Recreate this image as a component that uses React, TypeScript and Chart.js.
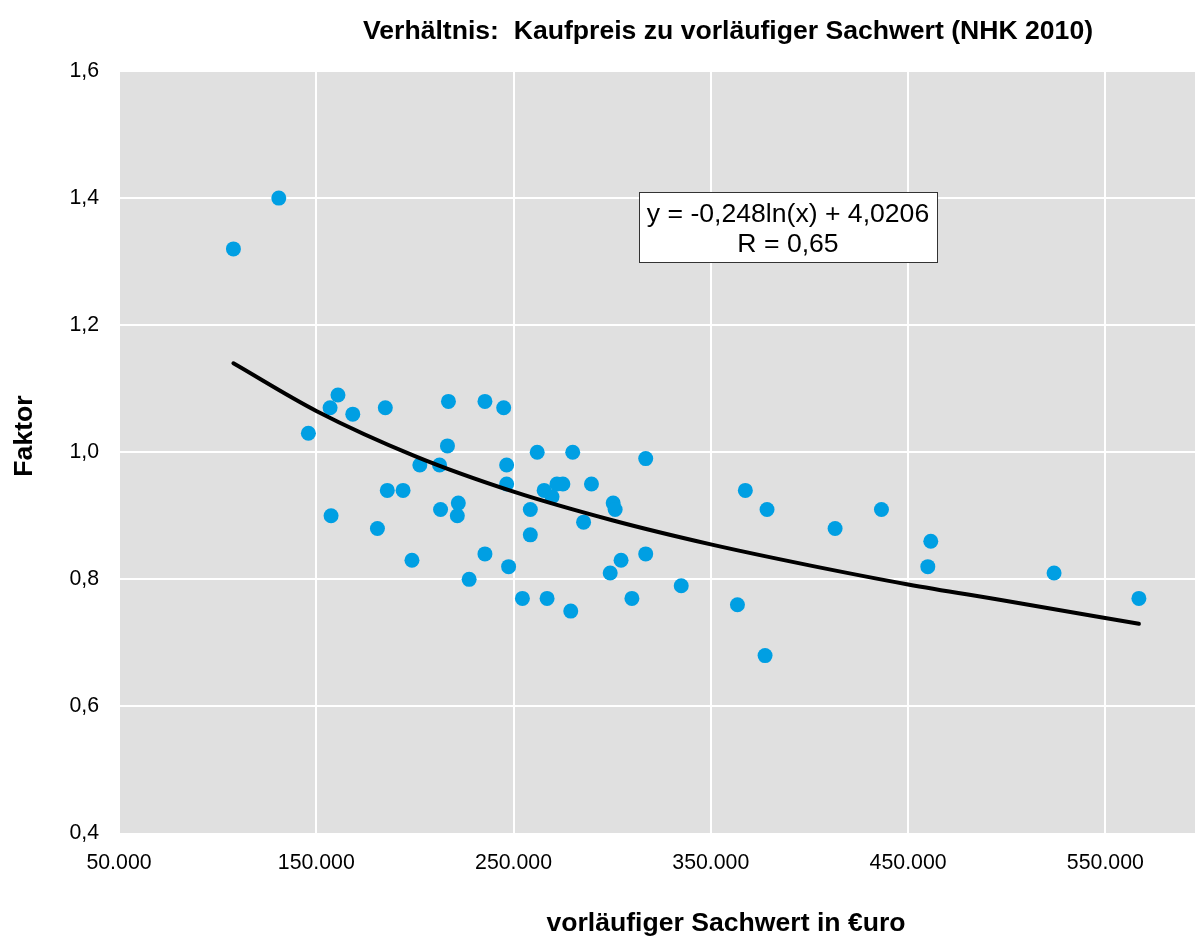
import React, { useEffect, useRef } from "react";
import { Chart, registerables } from "chart.js";

Chart.register(...registerables);

// ---- data ----
const sachwert: number[] = [
  108000, 131000, 146000, 157000, 161000, 168500, 185000, 217000, 235500, 245000,
  216500, 202500, 212500, 246500, 246500, 186000, 194000, 222000, 221500, 213000,
  157500, 181000, 198500, 235500, 247500, 227500, 254500, 262000, 280000, 317000,
  265500, 272000, 275000, 269500, 289500, 258500, 285500, 300500, 301500, 258500,
  304500, 299000, 317000, 267000, 279000, 310000, 367500, 378500, 413000, 436500,
  461500, 460000, 335000, 363500, 377500, 524000, 567000,
];
const faktor: number[] = [
  1.32, 1.40, 1.03, 1.07, 1.09, 1.06, 1.07, 1.08, 1.08, 1.07,
  1.01, 0.98, 0.98, 0.98, 0.95, 0.94, 0.94, 0.92, 0.90, 0.91,
  0.90, 0.88, 0.83, 0.84, 0.82, 0.80, 0.77, 1.00, 1.00, 0.99,
  0.94, 0.95, 0.95, 0.93, 0.95, 0.91, 0.89, 0.92, 0.91, 0.87,
  0.83, 0.81, 0.84, 0.77, 0.75, 0.77, 0.94, 0.91, 0.88, 0.91,
  0.86, 0.82, 0.79, 0.76, 0.68, 0.81, 0.77,
];

// trend line (log fit)
const trendX: number[] = [108000, 150000, 200000, 250000, 300000, 350000, 400000, 450000, 500000, 567000];
const trendY: number[] = [1.14, 1.065, 0.994, 0.938, 0.893, 0.855, 0.822, 0.792, 0.766, 0.73];

// axis ticks
const xLabelValues: number[] = [50000, 150000, 250000, 350000, 450000, 550000];
const yLabelValues: number[] = [0.4, 0.6, 0.8, 1.0, 1.2, 1.4, 1.6];

const titleText = "Verhältnis:  Kaufpreis zu vorläufiger Sachwert (NHK 2010)";
const xTitleText = "vorläufiger Sachwert in €uro";
const yTitleText = "Faktor";
const equationLines = ["y = -0,248ln(x) + 4,0206", "R = 0,65"];

const FONT = '"Liberation Sans", Arial, Helvetica, sans-serif';

function fmtThousands(v: number): string {
  return String(Math.round(v)).replace(/\B(?=(\d{3})+(?!\d))/g, ".");
}

const decorPlugin = {
  id: "decor",
  beforeDraw(chart: any) {
    const { ctx, chartArea: a } = chart;
    ctx.save();
    ctx.fillStyle = "#e0e0e0";
    ctx.fillRect(a.left, a.top, a.right - a.left, a.bottom - a.top);
    ctx.restore();
  },
  afterDraw(chart: any) {
    const { ctx } = chart;
    ctx.save();
    ctx.fillStyle = "#000";
    ctx.textAlign = "center";
    ctx.textBaseline = "alphabetic";
    // main title
    ctx.font = `bold 26.6px ${FONT}`;
    ctx.fillText(titleText, 728, 39);
    // x title
    ctx.fillText(xTitleText, 726, 931);
    // y title
    ctx.save();
    ctx.translate(32, 436);
    ctx.rotate(-Math.PI / 2);
    ctx.fillText(yTitleText, 0, 0);
    ctx.restore();
    // equation box
    ctx.fillStyle = "#ffffff";
    ctx.fillRect(639, 192, 298, 70);
    ctx.strokeStyle = "#333333";
    ctx.lineWidth = 1;
    ctx.strokeRect(639.5, 192.5, 298, 70);
    ctx.fillStyle = "#000";
    ctx.font = `26.6px ${FONT}`;
    ctx.fillText(equationLines[0], 788, 222);
    ctx.fillText(equationLines[1], 788, 251.5);
    ctx.restore();
  },
};

export default function App() {
  const canvasRef = useRef<HTMLCanvasElement | null>(null);

  useEffect(() => {
    const canvas = canvasRef.current;
    if (!canvas) return;
    const points = sachwert.map((x, i) => ({ x, y: faktor[i] }));
    const trend = trendX.map((x, i) => ({ x, y: trendY[i] }));

    const chart = new Chart(canvas, {
      type: "scatter",
      data: {
        datasets: [
          {
            label: "Trend",
            data: trend,
            showLine: true,
            borderColor: "#000000",
            borderWidth: 4,
            pointRadius: 0,
            cubicInterpolationMode: "monotone",
            borderCapStyle: "round",
            order: 0,
          } as any,
          {
            label: "Faktor",
            data: points,
            showLine: false,
            pointRadius: 7.5,
            pointBorderWidth: 0,
            backgroundColor: "#009fe3",
            borderColor: "#009fe3",
            order: 1,
          },
        ],
      },
      options: {
        responsive: false,
        animation: false,
        devicePixelRatio: 1,
        layout: { padding: { left: 0, right: 11, top: 71, bottom: 0 } },
        plugins: {
          legend: { display: false },
          tooltip: { enabled: false },
          title: { display: false },
        },
        scales: {
          x: {
            type: "linear",
            min: 50000,
            max: 600000,
            border: { display: false },
            grid: { color: "#ffffff", lineWidth: 2, drawTicks: false },
            afterFit(scale: any) {
              scale.height = 106.5;
            },
            ticks: {
              stepSize: 50000,
              autoSkip: false,
              maxRotation: 0,
              padding: 17,
              color: "#000",
              font: { family: FONT, size: 21.3 },
              callback: (v: any) => (xLabelValues.includes(Number(v)) ? fmtThousands(Number(v)) : null),
            },
          },
          y: {
            type: "linear",
            min: 0.4,
            max: 1.6,
            border: { display: false },
            grid: { color: "#ffffff", lineWidth: 2, drawTicks: false },
            afterFit(scale: any) {
              scale.width = 119;
            },
            ticks: {
              stepSize: 0.2,
              padding: 20,
              color: "#000",
              font: { family: FONT, size: 21.3 },
              callback: (v: any) => {
                const n = Number(v);
                const hit = yLabelValues.find((t) => Math.abs(t - n) < 1e-6);
                return hit !== undefined ? hit.toFixed(1).replace(".", ",") : null;
              },
            },
          },
        },
      },
      plugins: [decorPlugin],
    });
    return () => chart.destroy();
  }, []);

  return (
    <div
      style={{
        position: "fixed",
        left: 0,
        top: 0,
        width: 1195,
        height: 940,
        overflow: "hidden",
        background: "#ffffff",
      }}
    >
      <canvas ref={canvasRef} width={1215} height={940} style={{ display: "block" }} />
    </div>
  );
}
